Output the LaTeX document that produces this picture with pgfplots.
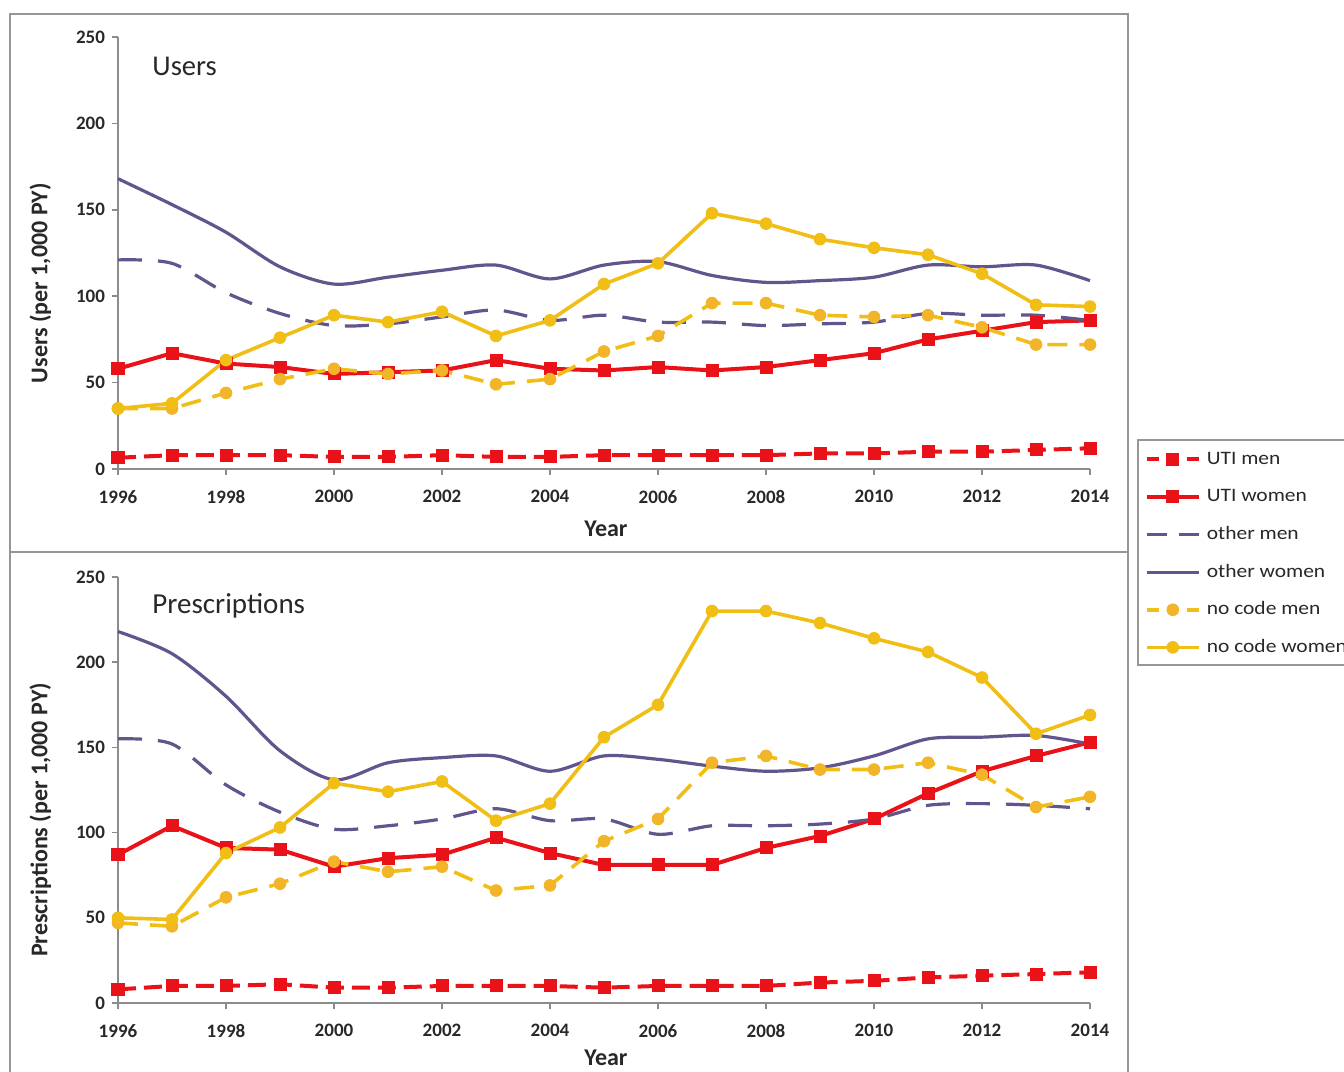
\documentclass[border=0pt]{standalone}
\usepackage{fontspec}
\setmainfont{Carlito}
\newfontfamily\legfont[FakeStretch=1.13]{Carlito}
\usepackage{pgfplots}
\usepackage{pgfplotstable}
\pgfplotsset{compat=1.18}
\definecolor{utired}{RGB}{232,18,24}
\definecolor{purp}{RGB}{98,84,140}
\definecolor{yell}{RGB}{240,190,20}
\definecolor{yellm}{RGB}{242,180,40}
\definecolor{axgray}{RGB}{140,140,140}
\definecolor{boxgray}{RGB}{150,150,150}
\definecolor{txt}{RGB}{40,40,40}

\pgfplotstableread{
year utim utiw othm othw ncm ncw
1996 6.5 58 121 168 35 35
1997 8 67 119 153 35 38
1998 8 61 102 137 44 63
1999 8 59 90 117 52 76
2000 7 55 83 107 58 89
2001 7 56 84 111 55 85
2002 8 57 88 115 57 91
2003 7 63 92 118 49 77
2004 7 58 86 110 52 86
2005 8 57 89 118 68 107
2006 8 59 85 120 77 119
2007 8 57 85 112 96 148
2008 8 59 83 108 96 142
2009 9 63 84 109 89 133
2010 9 67 85 111 88 128
2011 10 75 90 118 89 124
2012 10 80 89 117 82 113
2013 11 85 89 118 72 95
2014 12 86 86 109 72 94
}\users

\pgfplotstableread{
year utim utiw othm othw ncm ncw
1996 8 87 155 218 47 50
1997 10 104 152 205 45 49
1998 10 91 128 180 62 88
1999 11 90 112 148 70 103
2000 9 80 102 131 83 129
2001 9 85 104 141 77 124
2002 10 87 108 144 80 130
2003 10 97 114 145 66 107
2004 10 88 107 136 69 117
2005 9 81 108 145 95 156
2006 10 81 99 143 108 175
2007 10 81 104 139 141 230
2008 10 91 104 136 145 230
2009 12 98 105 138 137 223
2010 13 108 108 145 137 214
2011 15 123 116 155 141 206
2012 16 136 117 156 134 191
2013 17 145 116 157 115 158
2014 18 153 114 152 121 169
}\prescr

\pgfplotsset{
 panel/.style={
  scale only axis, width=486bp,
  xmin=1996, xmax=2014, ymin=0, ymax=250,
  xtick={1996,1998,...,2014}, ytick={0,50,...,250},
  axis lines*=left,
  axis line style={axgray, line width=0.8bp},
  tick style={axgray, line width=0.8bp},
  tick align=outside, major tick length=3bp,
  xticklabel style={/pgf/number format/1000 sep={}, yshift=-4bp},
  /pgf/number format/assume math mode=true,
  tick label style={font=\bfseries\fontsize{9.5bp}{11bp}\selectfont, text=txt},
  label style={font=\bfseries\fontsize{12bp}{14bp}\selectfont, text=txt},
  xlabel={Year},
  ylabel style={at={(axis description cs:-0.08,0.43)}, anchor=center},
  clip=false,
  legend image code/.code={\draw[mark repeat=2,mark phase=2,##1] plot coordinates {(0bp,0bp) (13bp,0bp) (26bp,0bp)};},
 },
 utimen/.style={color=utired, line width=2bp, dash pattern=on 9bp off 4bp,
   mark=square*, mark size=3bp, mark options={solid, fill=utired, line width=0.5bp}},
 utiwomen/.style={color=utired, line width=2bp,
   mark=square*, mark size=3bp, mark options={solid, fill=utired, line width=0.5bp}},
 othermen/.style={color=purp, line width=1.6bp, dash pattern=on 12bp off 8bp, smooth, no markers},
 otherwomen/.style={color=purp, line width=1.6bp, smooth, no markers},
 nocodemen/.style={color=yell, line width=1.8bp, dash pattern=on 10bp off 6bp,
   mark=*, mark size=2.9bp, mark options={solid, fill=yellm, draw=yellm, line width=0.5bp}},
 nocodewomen/.style={color=yell, line width=1.8bp,
   mark=*, mark size=2.9bp, mark options={solid, fill=yell, line width=0.5bp}},
}

\begin{document}
\begin{tikzpicture}
\useasboundingbox (0,0) rectangle (672bp,536bp);
% panel boxes
\draw[boxgray, line width=1bp] (5bp,260bp) rectangle (564bp,529bp);
\draw[boxgray, line width=1bp] (5bp,-3bp) -- (5bp,260bp) -- (564bp,260bp) -- (564bp,-3bp);
\draw[boxgray, line width=0.8bp] (569bp,203.5bp) rectangle (690bp,316bp);

\begin{axis}[panel, height=216bp, at={(59bp,301.5bp)}, anchor=south west,
  ylabel={Users (per 1,000 PY)},
  xlabel style={at={(axis description cs:0.502,0)}, anchor=center, yshift=-30bp},
  legend style={at={(axis description cs:1.056,0.051)}, anchor=north west,
    draw=none, fill=none, inner sep=0bp,
    font=\legfont\fontsize{9.5bp}{11bp}\selectfont, text=txt,
    nodes={inner sep=1.5bp, text height=7bp, text depth=2bp},
    row sep=6.8bp, column sep=1.5bp},
  legend cell align=left]
\addplot[utimen, forget plot] table[x=year, y=utim] {\users};
\addplot[utiwomen, forget plot] table[x=year, y=utiw] {\users};
\addplot[othermen, forget plot] table[x=year, y=othm] {\users};
\addplot[otherwomen, forget plot] table[x=year, y=othw] {\users};
\addplot[nocodemen, forget plot] table[x=year, y=ncm] {\users};
\addplot[nocodewomen, forget plot] table[x=year, y=ncw] {\users};
\addlegendimage{utimen, dash pattern=on 6bp off 4bp}
\addlegendentry{UTI men}
\addlegendimage{utiwomen}
\addlegendentry{UTI women}
\addlegendimage{othermen, dash pattern=on 10bp off 6bp}
\addlegendentry{other men}
\addlegendimage{otherwomen}
\addlegendentry{other women}
\addlegendimage{nocodemen, dash pattern=on 6bp off 4bp}
\addlegendentry{no code men}
\addlegendimage{nocodewomen}
\addlegendentry{no code women}
\node[anchor=west, inner sep=0pt, font=\fontsize{14.3bp}{16bp}\selectfont, text=txt] at (axis description cs:0.035,0.933) {Users};
\end{axis}

\begin{axis}[panel, height=213bp, at={(59bp,34.5bp)}, anchor=south west,
  ylabel={Prescriptions (per 1,000 PY)},
  xlabel style={at={(axis description cs:0.502,0)}, anchor=center, yshift=-27.5bp}]
\addplot[utimen] table[x=year, y=utim] {\prescr};
\addplot[utiwomen] table[x=year, y=utiw] {\prescr};
\addplot[othermen] table[x=year, y=othm] {\prescr};
\addplot[otherwomen] table[x=year, y=othw] {\prescr};
\addplot[nocodemen] table[x=year, y=ncm] {\prescr};
\addplot[nocodewomen] table[x=year, y=ncw] {\prescr};
\node[anchor=west, inner sep=0pt, font=\fontsize{14.5bp}{16bp}\selectfont, text=txt] at (axis description cs:0.035,0.932) {Prescriptions};
\end{axis}
\end{tikzpicture}
\end{document}
